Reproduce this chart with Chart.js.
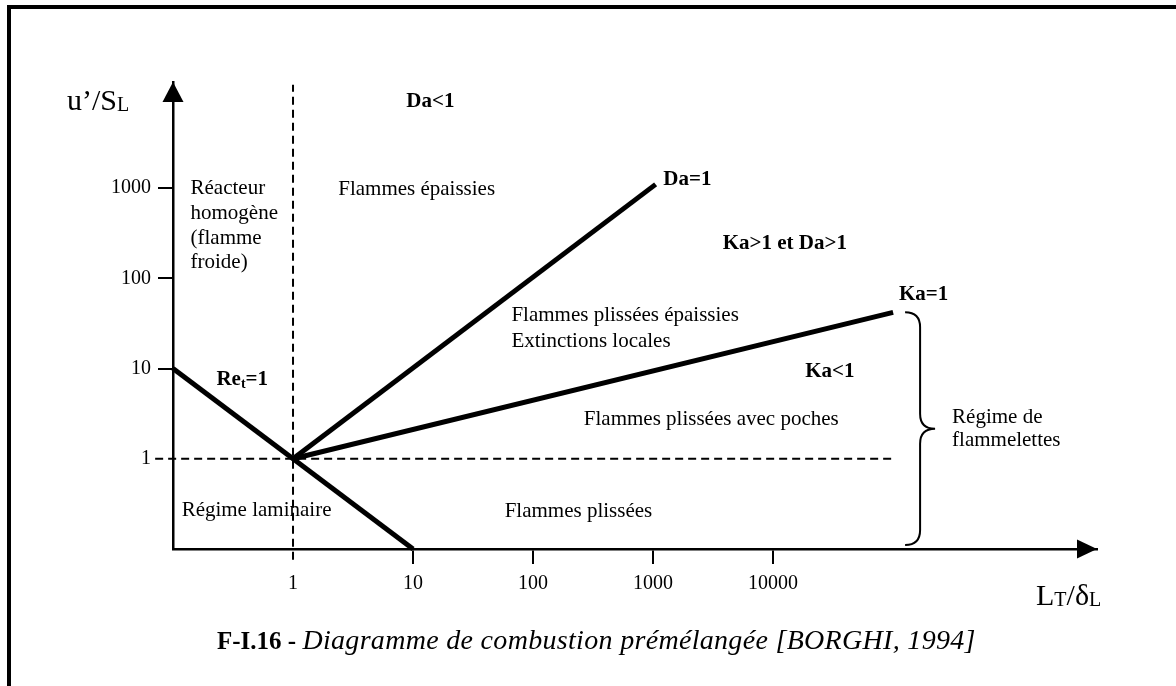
<!DOCTYPE html>
<html>
<head>
<meta charset="utf-8">
<script src="https://cdn.jsdelivr.net/npm/chart.js@4.4.1/dist/chart.umd.min.js"></script>
<style>
  html, body { margin: 0; padding: 0; background: #fff; }
  canvas { display: block; }
</style>
</head>
<body>
<canvas id="borghi" width="1176" height="686"></canvas>
<script>
// tick values / labels (log axes)
var xTickValues = [1, 10, 100, 1000, 10000];
var xTickLabels = ['1', '10', '100', '1000', '10000'];
var yTickValues = [1, 10, 100, 1000];
var yTickLabels = ['1', '10', '100', '1000'];

// regime boundaries, [L_T/delta_L, u'/S_L]
var reLineX = [0.1, 10];
var reLineY = [10, 0.1];
var daLineX = [1, 1050];
var daLineY = [1, 1100];
var kaLineX = [1, 100000];
var kaLineY = [1, 42];
var refVX = [1, 1];
var refVY = [0.076, 14000];
var refHX = [0.071, 100000];
var refHY = [1, 1];

// region labels anchored in data coordinates
var notes = [
    { t: 'Da<1', x: 8.8, y: 9000, b: true },
    { t: 'Réacteur', x: 0.14, y: 980 },
    { t: 'homogène', x: 0.14, y: 530 },
    { t: '(flamme', x: 0.14, y: 280 },
    { t: 'froide)', x: 0.14, y: 150 },
    { t: 'Flammes épaissies', x: 2.38, y: 955 },
    { t: 'Da=1', x: 1216, y: 1250, b: true },
    { t: 'Ka>1 et Da>1', x: 3800, y: 240, b: true },
    { t: 'Flammes plissées épaissies', x: 66, y: 39 },
    { t: 'Extinctions locales', x: 66, y: 20 },
    { t: 'Ka=1', x: 112000, y: 66, b: true },
    { t: 'Ka<1', x: 18500, y: 9.2, b: true },
    { t: 'Flammes plissées avec poches', x: 265, y: 2.7 },
    { t: 'Régime de', x: 310000, y: 2.9 },
    { t: 'flammelettes', x: 310000, y: 1.6 },
    { t: 'Régime laminaire', x: 0.118, y: 0.27 },
    { t: 'Flammes plissées', x: 58, y: 0.26 }
];

var serif = '"Liberation Serif", "Times New Roman", serif';

function lineSet(xs, ys, w, dash) {
    return {
        data: xs.map(function(x, i) { return { x: x, y: ys[i] }; }),
        showLine: true,
        borderColor: '#000',
        borderWidth: w,
        borderDash: dash || [],
        pointRadius: 0,
        clip: false
    };
}

var decorPlugin = {
    id: 'decor',
    beforeDraw: function(chart) {
        var c = chart.ctx;
        c.save();
        c.fillStyle = '#000';
        c.fillRect(7, 5, 4, 681);
        c.fillRect(7, 5, 1169, 4);
        c.restore();
    },
    afterDraw: function(chart) {
        var c = chart.ctx, a = chart.chartArea;
        var xs = chart.scales.x, ys = chart.scales.y;
        c.save();
        c.fillStyle = '#000';
        // arrow heads
        c.beginPath();
        c.moveTo(a.left, a.top);
        c.lineTo(a.left - 10.5, a.top + 20);
        c.lineTo(a.left + 10.5, a.top + 20);
        c.closePath();
        c.fill();
        c.beginPath();
        c.moveTo(a.right, a.bottom);
        c.lineTo(a.right - 20, a.bottom - 9.5);
        c.lineTo(a.right - 20, a.bottom + 9.5);
        c.closePath();
        c.fill();

        // region labels
        c.textBaseline = 'middle';
        c.textAlign = 'left';
        notes.forEach(function(n) {
            c.font = (n.b ? 'bold ' : '') + '21px ' + serif;
            c.fillText(n.t, xs.getPixelForValue(n.x), ys.getPixelForValue(n.y));
        });

        // Re_t=1 with subscript
        var rx = xs.getPixelForValue(0.23), ry = ys.getPixelForValue(7.5);
        c.font = 'bold 21px ' + serif;
        c.fillText('Re', rx, ry);
        var w1 = c.measureText('Re').width;
        c.font = 'bold 14px ' + serif;
        c.fillText('t', rx + w1, ry + 5);
        var w2 = c.measureText('t').width;
        c.font = 'bold 21px ' + serif;
        c.fillText('=1', rx + w1 + w2, ry);

        // brace for the flamelet regime
        var bx = xs.getPixelForValue(kaLineX[1]) + 12;
        var top = ys.getPixelForValue(kaLineY[1]);
        var bot = a.bottom - 4;
        var mid = (top + bot) / 2;
        c.strokeStyle = '#000';
        c.lineWidth = 2;
        c.beginPath();
        c.moveTo(bx, top);
        c.quadraticCurveTo(bx + 15, top, bx + 15, top + 15);
        c.lineTo(bx + 15, mid - 15);
        c.quadraticCurveTo(bx + 15, mid, bx + 30, mid);
        c.quadraticCurveTo(bx + 15, mid, bx + 15, mid + 15);
        c.lineTo(bx + 15, bot - 15);
        c.quadraticCurveTo(bx + 15, bot, bx, bot);
        c.stroke();

        // axis titles
        c.textBaseline = 'alphabetic';
        c.font = '30px ' + serif;
        c.fillText('u\u2019/S', 67, 110);
        var wu = c.measureText('u\u2019/S').width;
        c.font = '20px ' + serif;
        c.fillText('L', 67 + wu, 111);

        var lx = 1036, ly = 605;
        c.font = '30px ' + serif;
        c.fillText('L', lx, ly);
        lx += c.measureText('L').width;
        c.font = '20px ' + serif;
        c.fillText('T', lx, ly + 1);
        lx += c.measureText('T').width;
        c.font = '30px ' + serif;
        c.fillText('/\u03B4', lx, ly);
        lx += c.measureText('/\u03B4').width;
        c.font = '20px ' + serif;
        c.fillText('L', lx, ly + 1);

        // caption
        var capA = 'F-I.16 - ';
        var capB = 'Diagramme de combustion prémélangée [BORGHI, 1994]';
        c.font = 'bold 25px ' + serif;
        c.fillText(capA, 217, 649);
        var wa = c.measureText(capA).width;
        c.font = 'italic 28px ' + serif;
        var wb = c.measureText(capB).width;
        var spare = 976 - (217 + wa) - wb;
        if ('letterSpacing' in c && Math.abs(spare) > 2) {
            c.letterSpacing = (spare / capB.length).toFixed(2) + 'px';
        }
        c.fillText(capB, 217 + wa, 649);
        c.restore();
    }
};

function tickColor(ctx) {
    return ctx.tick && ctx.tick.value === 1 ? 'rgba(0,0,0,0)' : '#000';
}

var chart = new Chart(document.getElementById('borghi').getContext('2d'), {
    type: 'scatter',
    data: {
        datasets: [
            lineSet(refVX, refVY, 2, [8, 5]),
            lineSet(refHX, refHY, 2, [8, 5]),
            lineSet(reLineX, reLineY, 5),
            lineSet(daLineX, daLineY, 5),
            lineSet(kaLineX, kaLineY, 5)
        ]
    },
    options: {
        responsive: false,
        animation: false,
        layout: { padding: { top: 82, right: 79, left: 0, bottom: 0 } },
        plugins: { legend: { display: false }, tooltip: { enabled: false } },
        scales: {
            x: {
                type: 'logarithmic',
                min: 0.1,
                max: 5000000,
                afterFit: function(s) { s.height = 137; },
                afterBuildTicks: function(s) {
                    s.ticks = xTickValues.map(function(v) { return { value: v }; });
                },
                grid: { drawOnChartArea: false, tickLength: 15, color: tickColor, lineWidth: 2 },
                border: { display: true, color: '#000', width: 2.5 },
                ticks: {
                    color: '#000',
                    padding: 8,
                    maxRotation: 0,
                    autoSkip: false,
                    font: { family: serif, size: 20 },
                    callback: function(v, i) { return xTickLabels[i]; }
                }
            },
            y: {
                type: 'logarithmic',
                min: 0.1,
                max: 15000,
                afterFit: function(s) { s.width = 173; },
                afterBuildTicks: function(s) {
                    s.ticks = yTickValues.map(function(v) { return { value: v }; });
                },
                grid: { drawOnChartArea: false, tickLength: 15, color: tickColor, lineWidth: 2 },
                border: { display: true, color: '#000', width: 2.5 },
                ticks: {
                    color: '#000',
                    padding: 7,
                    autoSkip: false,
                    font: { family: serif, size: 20 },
                    callback: function(v, i) { return yTickLabels[i]; }
                }
            }
        }
    },
    plugins: [decorPlugin]
});
</script>
</body>
</html>
